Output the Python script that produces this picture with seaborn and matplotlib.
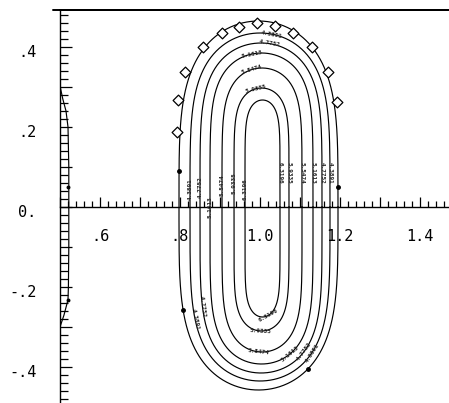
import numpy as np
import pandas as pd
import matplotlib
matplotlib.use("Agg")
import matplotlib.pyplot as plt
import matplotlib.ticker as mticker
from matplotlib.transforms import ScaledTranslation
from matplotlib.lines import Line2D
import seaborn as sns

# ---------------- data ----------------
# closed contours, outer -> inner: crossings of y=0, top and bottom extents
x_left = [0.7975, 0.825, 0.850, 0.875, 0.905, 0.935, 0.9625]
x_right = [1.195, 1.175, 1.155, 1.1325, 1.105, 1.0725, 1.050]
y_top = [0.465, 0.435, 0.410, 0.385, 0.3475, 0.2975, 0.2675]
y_bottom = [-0.4575, -0.435, -0.415, -0.3925, -0.3625, -0.31, -0.275]
cap_power = [4.0, 4.5, 5.0, 5.5, 6.0, 7.0, 8.0]
level_labels = ["4.0030", "4.3891", "4.7752", "5.1613", "5.5474", "5.9335", "6.3196"]

# diamonds along the outer contour
diamond_x = [0.7925, 0.795, 0.8125, 0.8575, 0.905, 0.9475, 0.9925, 1.0375, 1.0825, 1.13, 1.17, 1.1925]
diamond_y = [0.1875, 0.2675, 0.3375, 0.40, 0.435, 0.45, 0.46, 0.4525, 0.435, 0.40, 0.3375, 0.2625]

# open contour hugging the left axis
edge_x = [0.500, 0.507, 0.515, 0.520, 0.522, 0.522, 0.522, 0.521, 0.520, 0.510, 0.500]
edge_y = [0.3025, 0.27, 0.24, 0.20, 0.10, 0.05, -0.10, -0.20, -0.232, -0.27, -0.30]
edge_dot_x = [0.521, 0.520]
edge_dot_y = [0.05, -0.232]

# axis ticks
xtick_values = [0.6, 0.8, 1.0, 1.2, 1.4]
xtick_labels = [".6", ".8", "1.0", "1.2", "1.4"]
ytick_values = [0.4, 0.2, 0.0, -0.2, -0.4]
ytick_labels = [".4", ".2", "0.", "-.2", "-.4"]

# contour label placements: (contour index, where, coordinate)
#  'L'/'R' -> y on left/right side ; 'T'/'B' -> x on upper/lower cap
label_spots = [
    (1, 'L', 0.045), (2, 'L', 0.05), (3, 'L', 0.0), (4, 'L', 0.055), (5, 'L', 0.06), (6, 'L', 0.045),
    (1, 'R', 0.085), (2, 'R', 0.085), (3, 'R', 0.085), (4, 'R', 0.085), (5, 'R', 0.085), (6, 'R', 0.085),
    (1, 'T', 1.03), (2, 'T', 1.025), (3, 'T', 0.98), (4, 'T', 0.98), (5, 'T', 0.99),
    (1, 'L', -0.28), (2, 'L', -0.25),
    (6, 'B', 1.02), (5, 'B', 1.0), (4, 'B', 0.995),
    (3, 'B', 1.075), (2, 'B', 1.11), (1, 'B', 1.13),
]
outer_dots = [(0, 'L', 0.09), (0, 'R', 0.05), (0, 'L', -0.2575), (0, 'B', 1.12)]


def contour_frame(i, n=600):
    c = 0.5 * (x_left[i] + x_right[i])
    w = 0.5 * (x_right[i] - x_left[i])
    p = cap_power[i]
    t = np.linspace(0, 2 * np.pi, n)
    s = np.sin(t)
    ext = np.where(s >= 0, y_top[i], -y_bottom[i])
    xs = c + w * np.cos(t)
    ys = np.sign(s) * np.abs(s) ** (2.0 / p) * ext
    return pd.DataFrame({"x": xs, "y": ys, "contour": i})


def point_on(i, where, v):
    c = 0.5 * (x_left[i] + x_right[i])
    w = 0.5 * (x_right[i] - x_left[i])
    p = cap_power[i]

    def side(y):
        e = y_top[i] if y >= 0 else -y_bottom[i]
        return w * np.sqrt(max(1 - abs(y / e) ** p, 0.0))

    def cap(x, up):
        e = y_top[i] if up else -y_bottom[i]
        r = min(abs((x - c) / w), 1.0)
        return (1 if up else -1) * e * (1 - r ** 2) ** (1.0 / p)

    d = 1e-3
    if where in ('L', 'R'):
        sg = -1 if where == 'L' else 1
        x0, x1 = c + sg * side(v), c + sg * side(v + d)
        return x0, v, np.degrees(np.arctan2(d, x1 - x0))
    up = where == 'T'
    y0, y1 = cap(v, up), cap(v + d, up)
    return v, y0, np.degrees(np.arctan2(y1 - y0, d))


# ---------------- figure ----------------
sns.set_style("white")
W, H = 449, 403
fig = plt.figure(figsize=(W / 100, H / 100), dpi=100)
ax = fig.add_axes([60 / W, 0, (W - 60) / W, (H - 10) / H])

df = pd.concat([contour_frame(i) for i in range(len(x_left))], ignore_index=True)
sns.lineplot(data=df, x="x", y="y", units="contour", estimator=None, sort=False,
             color="black", lw=0.85, ax=ax, legend=False)

edge_df = pd.DataFrame({"x": edge_x, "y": edge_y})
sns.lineplot(data=edge_df, x="x", y="y", sort=False, estimator=None,
             color="black", lw=0.85, ax=ax)
sns.scatterplot(x=edge_dot_x, y=edge_dot_y, color="black", s=8, ax=ax, linewidth=0)

sns.scatterplot(x=diamond_x, y=diamond_y, marker="D", s=30, facecolor="white",
                edgecolor="black", linewidth=0.9, ax=ax, zorder=5)

for (i, where, v) in outer_dots:
    x, y, _ = point_on(i, where, v)
    ax.plot([x], [y], marker="o", ms=2.5, color="black", zorder=6)

for (i, where, v) in label_spots:
    x, y, ang = point_on(i, where, v)
    if ang > 90:
        ang -= 180
    elif ang <= -90:
        ang += 180
    ax.text(x, y, level_labels[i], fontsize=4.3, family="DejaVu Sans Mono", weight="heavy",
            rotation=ang, rotation_mode="anchor", ha="center", va="center", zorder=7)

ax.set_xlim(0.5, 0.5 + (W - 60) / 400)
ax.set_ylim(-0.49, 0.4925)
ax.set_xlabel("")
ax.set_ylabel("")

ax.spines["right"].set_visible(False)
ax.spines["bottom"].set_position(("data", 0))
for s in ["left", "bottom", "top"]:
    ax.spines[s].set_color("black")
    ax.spines[s].set_linewidth(1.0)
ax.spines["top"].set_linewidth(1.4)

xmap = dict(zip([round(v, 2) for v in xtick_values], xtick_labels))
ymap = dict(zip([round(v, 2) for v in ytick_values], ytick_labels))
ax.xaxis.set_major_locator(mticker.MultipleLocator(0.1))
ax.xaxis.set_minor_locator(mticker.MultipleLocator(0.02))
ax.yaxis.set_major_locator(mticker.MultipleLocator(0.1))
ax.yaxis.set_minor_locator(mticker.MultipleLocator(0.02))
ax.xaxis.set_major_formatter(mticker.FuncFormatter(lambda v, p: xmap.get(round(v, 2), "")))
ax.yaxis.set_major_formatter(mticker.FuncFormatter(lambda v, p: ymap.get(round(v, 2), "")))

ax.tick_params(axis="both", which="both", direction="in", color="black", width=0.9,
               top=False, right=False, left=True, bottom=True)
ax.tick_params(axis="x", which="major", length=7, pad=16, labelsize=11)
ax.tick_params(axis="x", which="minor", length=4.5)
ax.tick_params(axis="y", which="major", length=8.5, pad=17, labelsize=11)
ax.tick_params(axis="y", which="minor", length=5.8)

for lab in ax.get_xticklabels() + ax.get_yticklabels():
    lab.set_family("DejaVu Sans Mono")
    lab.set_color("black")
off = ScaledTranslation(0, -4 / 100, fig.dpi_scale_trans)
for lab in ax.get_yticklabels():
    lab.set_transform(lab.get_transform() + off)

# top rule extends slightly left of the y axis
fig.add_artist(Line2D([53 / W, 1.0], [1 - 10 / H, 1 - 10 / H], color="black", lw=1.4,
                      transform=fig.transFigure))

fig.savefig("out.png", dpi=100)
